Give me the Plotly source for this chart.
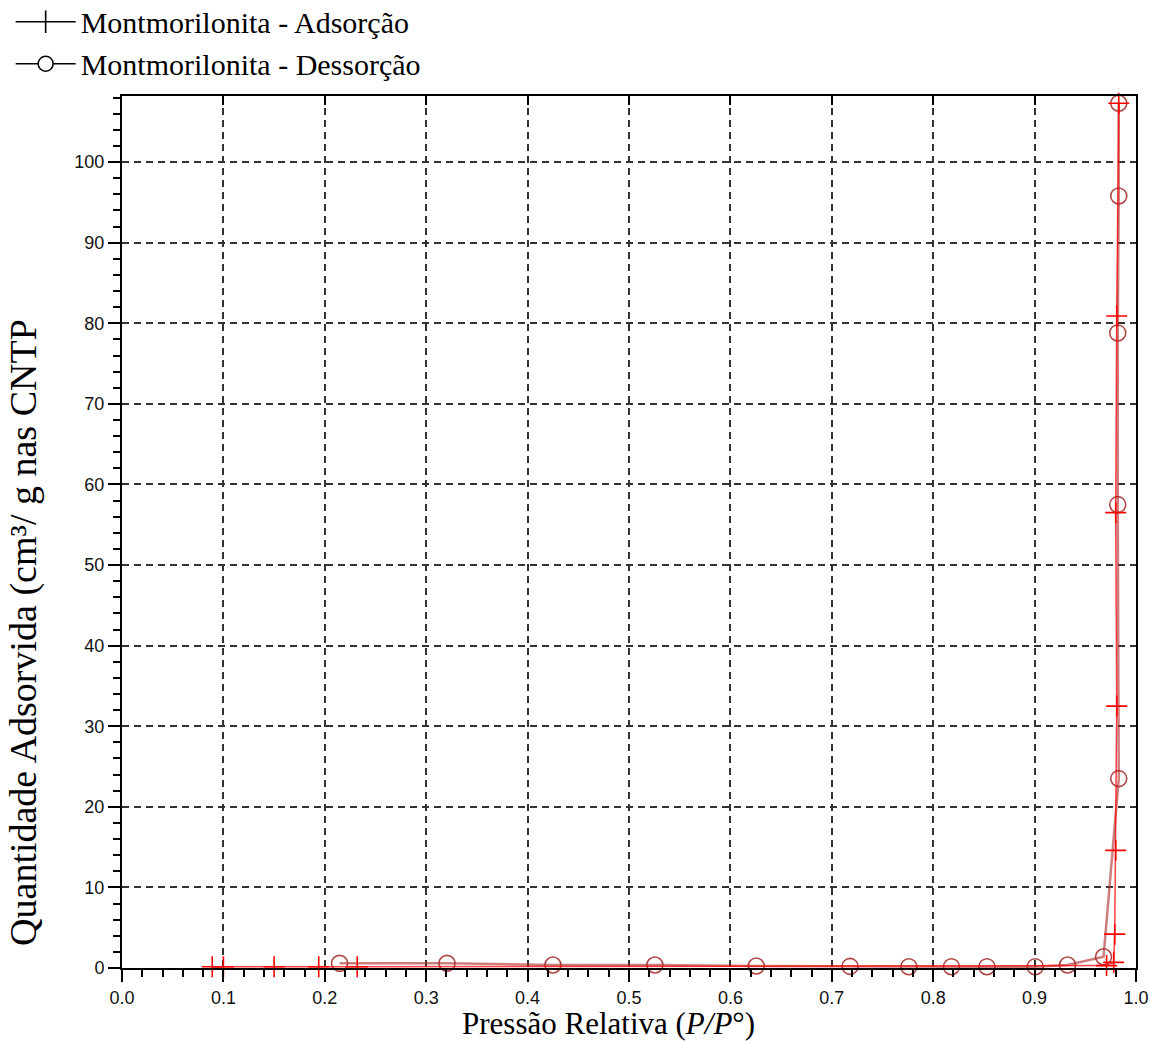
import plotly.graph_objects as go

# Isotherm data: relative pressure P/P° vs adsorbed quantity (cm³/g STP)
ads_x = [0.089, 0.100, 0.150, 0.194, 0.232, 0.971, 0.978, 0.979, 0.980, 0.981, 0.980, 0.981, 0.983]
ads_y = [0.15, 0.15, 0.15, 0.15, 0.15, 0.3, 0.7, 4.2, 14.6, 32.5, 56.5, 80.9, 107.3]

des_x = [0.983, 0.983, 0.982, 0.982, 0.983, 0.968, 0.9325, 0.9006, 0.853, 0.818,
         0.776, 0.718, 0.6255, 0.5255, 0.425, 0.3205, 0.2146]
des_y = [107.3, 95.8, 78.8, 57.5, 23.5, 1.4, 0.37, 0.16, 0.16, 0.16,
         0.16, 0.2, 0.25, 0.37, 0.37, 0.58, 0.58]

x_tick_vals = [0.0, 0.1, 0.2, 0.3, 0.4, 0.5, 0.6, 0.7, 0.8, 0.9, 1.0]
x_tick_text = ["0.0", "0.1", "0.2", "0.3", "0.4", "0.5", "0.6", "0.7", "0.8", "0.9", "1.0"]
y_tick_vals = [0, 10, 20, 30, 40, 50, 60, 70, 80, 90, 100]

name_ads = "Montmorilonita - Adsorção"
name_des = "Montmorilonita - Dessorção"

SERIF = "Liberation Serif, Times New Roman, serif"
SANS = "Liberation Sans, Arial, sans-serif"

fig = go.Figure()

# data traces
fig.add_trace(go.Scatter(
    x=des_x, y=des_y, mode="lines+markers", showlegend=False, cliponaxis=False,
    line=dict(color="rgba(175,40,40,0.6)", width=2.5),
    marker=dict(symbol="circle-open", size=16, color="rgba(160,40,40,0.85)",
                line=dict(width=1.6, color="rgba(160,40,40,0.85)")),
))
fig.add_trace(go.Scatter(
    x=ads_x, y=ads_y, mode="lines+markers", showlegend=False, cliponaxis=False,
    line=dict(color="rgba(255,0,0,0.75)", width=1.5),
    marker=dict(symbol="cross-thin", size=15, color="red",
                line=dict(width=1.6, color="red")),
))

# legend entries drawn in black
fig.add_trace(go.Scatter(
    x=[None], y=[None], mode="lines+markers", name=name_ads,
    line=dict(color="black", width=1.5),
    marker=dict(symbol="line-ns", size=26, color="black", line=dict(width=1.6, color="black")),
))
fig.add_trace(go.Scatter(
    x=[None], y=[None], mode="lines+markers", name=name_des,
    line=dict(color="black", width=1.5),
    marker=dict(symbol="circle", size=15, color="white", line=dict(width=1.5, color="black")),
))

# helper trace for the top tick axis
fig.add_trace(go.Scatter(x=[None], y=[None], xaxis="x2", showlegend=False, hoverinfo="skip"))

fig.update_layout(
    width=1150, height=1041,
    margin=dict(l=122, r=14, t=96, b=73, autoexpand=False),
    paper_bgcolor="white", plot_bgcolor="white",
    showlegend=True,
    legend=dict(
        xref="paper", yref="paper", x=-0.1098, y=1.115,
        xanchor="left", yanchor="top",
        font=dict(family=SERIF, size=30, color="black"),
        bgcolor="rgba(0,0,0,0)", borderwidth=0,
        itemwidth=60, tracegroupgap=0, traceorder="normal",
    ),
    xaxis=dict(
        range=[0, 1.0], tickvals=x_tick_vals, ticktext=x_tick_text,
        ticks="outside", ticklen=12, tickwidth=2, tickcolor="black",
        minor=dict(dtick=0.02, ticks="outside", ticklen=7, tickwidth=2, tickcolor="black", showgrid=False),
        showline=True, linecolor="black", linewidth=2, mirror=True,
        showgrid=True, gridcolor="#333333", gridwidth=1.5, griddash="7px,5px",
        zeroline=False, layer="above traces",
        tickfont=dict(family=SANS, size=18, color="#111111"),
        automargin=False,
    ),
    xaxis2=dict(
        overlaying="x", side="top", anchor="y", range=[0, 1.0],
        tickvals=x_tick_vals, ticks="inside", ticklen=9, tickwidth=2, tickcolor="black",
        showticklabels=False, showgrid=False, showline=False, zeroline=False,
    ),
    yaxis=dict(
        range=[0, 108.2], tickvals=y_tick_vals,
        ticks="outside", ticklen=12, tickwidth=2, tickcolor="black",
        minor=dict(dtick=2, ticks="outside", ticklen=7, tickwidth=2, tickcolor="black", showgrid=False),
        showline=True, linecolor="black", linewidth=2, mirror=True,
        showgrid=True, gridcolor="#333333", gridwidth=1.5, griddash="7px,5px",
        zeroline=False, layer="above traces",
        tickfont=dict(family=SANS, size=18, color="#111111"),
        automargin=False,
    ),
    annotations=[
        dict(text="Pressão Relativa (<i>P/P</i>°)", xref="paper", yref="paper",
             x=0.48, y=-0.064, xanchor="center", yanchor="middle", showarrow=False,
             font=dict(family=SERIF, size=31, color="black")),
        dict(text="Quantidade Adsorvida (cm³/ g nas CNTP", xref="paper", yref="paper",
             x=-0.097, y=0.385, xanchor="center", yanchor="middle", showarrow=False,
             textangle=-90, font=dict(family=SERIF, size=38, color="black")),
    ],
)

fig.write_html("out.html")
